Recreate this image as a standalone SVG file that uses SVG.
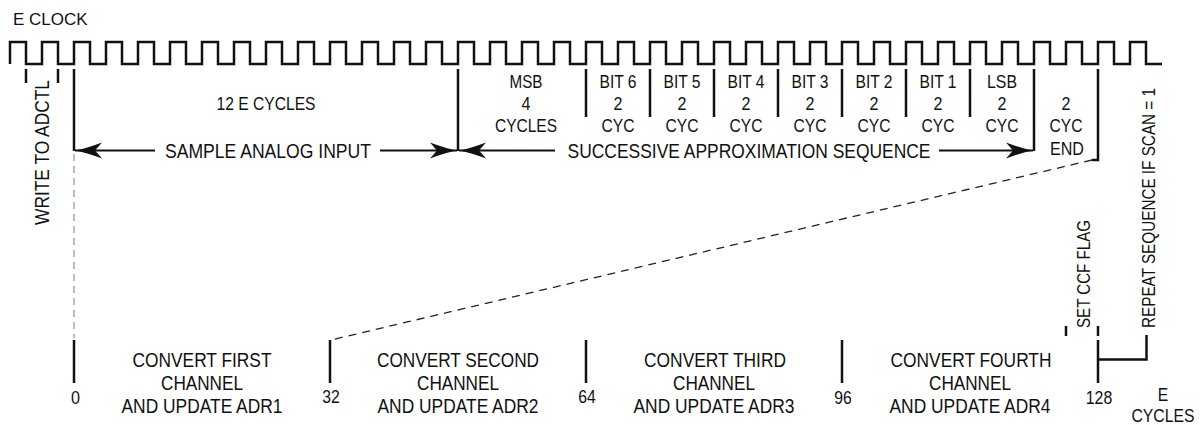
<svg xmlns="http://www.w3.org/2000/svg" width="1200" height="425" viewBox="0 0 1200 425">
<style>
.t{font-family:"Liberation Sans",Arial,sans-serif;fill:#111}
.b{font-size:21px}
.m{font-size:19px}
.s{font-size:18.5px}
.c{text-anchor:middle}
.ln{stroke:#111;stroke-width:2.5;fill:none}
.ar{stroke:#111;stroke-width:2;fill:none;marker-end:url(#ah)}
</style>
<defs>
<marker id="ah" markerUnits="userSpaceOnUse" markerWidth="28" markerHeight="18" refX="27" refY="8" orient="auto" viewBox="0 0 28 16">
<path d="M27,8 Q16,6 0,0 L7,8 L0,16 Q16,10 27,8 Z" fill="#111"/>
</marker>
</defs>

<g id="clock">
<text class="t" x="13" y="25" style="font-size:17px">E CLOCK</text>
<path class="ln" d="M10,64
v-22h16v22h16v-22h16v22h16v-22h16v22h16v-22h16v22h16v-22h16v22h16v-22h16v22h16
v-22h16v22h16v-22h16v22h16v-22h16v22h16v-22h16v22h16v-22h16v22h16v-22h16v22h16
v-22h16v22h16v-22h16v22h16v-22h16v22h16v-22h16v22h16v-22h16v22h16v-22h16v22h16
v-22h16v22h16v-22h16v22h16v-22h16v22h16v-22h16v22h16v-22h16v22h16v-22h16v22h16
v-22h16v22h16v-22h16v22h16v-22h16v22h16v-22h16v22h16v-22h16v22h16v-22h16v22h16
v-22h16v22h16v-22h16v22h16v-22h16v22h16v-22h16v22h16v-22h16v22h16v-22h16v22h16"/>
</g>

<g id="write-adctl">
<line class="ln" x1="26" y1="69" x2="26" y2="83"/>
<line class="ln" x1="58" y1="69" x2="58" y2="83"/>
<text class="t b" transform="translate(49,225) rotate(-90)" textLength="145" lengthAdjust="spacingAndGlyphs">WRITE TO ADCTL</text>
</g>

<g id="sample">
<text class="t m c" x="266" y="110" textLength="99" lengthAdjust="spacingAndGlyphs">12 E CYCLES</text>
<text class="t b c" x="268" y="158" textLength="206" lengthAdjust="spacingAndGlyphs">SAMPLE ANALOG INPUT</text>
</g>

<g id="sar-columns">
<text class="t m c" x="526" y="88" textLength="33" lengthAdjust="spacingAndGlyphs">MSB</text>
<text class="t m c" x="526" y="109.5" textLength="9" lengthAdjust="spacingAndGlyphs">4</text>
<text class="t m c" x="526" y="131.5" textLength="62" lengthAdjust="spacingAndGlyphs">CYCLES</text>
<text class="t m c" x="618" y="88" textLength="37" lengthAdjust="spacingAndGlyphs">BIT 6</text>
<text class="t m c" x="618" y="109.5" textLength="9" lengthAdjust="spacingAndGlyphs">2</text>
<text class="t m c" x="618" y="131.5" textLength="33" lengthAdjust="spacingAndGlyphs">CYC</text>
<text class="t m c" x="682" y="88" textLength="37" lengthAdjust="spacingAndGlyphs">BIT 5</text>
<text class="t m c" x="682" y="109.5" textLength="9" lengthAdjust="spacingAndGlyphs">2</text>
<text class="t m c" x="682" y="131.5" textLength="33" lengthAdjust="spacingAndGlyphs">CYC</text>
<text class="t m c" x="746" y="88" textLength="37" lengthAdjust="spacingAndGlyphs">BIT 4</text>
<text class="t m c" x="746" y="109.5" textLength="9" lengthAdjust="spacingAndGlyphs">2</text>
<text class="t m c" x="746" y="131.5" textLength="33" lengthAdjust="spacingAndGlyphs">CYC</text>
<text class="t m c" x="810" y="88" textLength="37" lengthAdjust="spacingAndGlyphs">BIT 3</text>
<text class="t m c" x="810" y="109.5" textLength="9" lengthAdjust="spacingAndGlyphs">2</text>
<text class="t m c" x="810" y="131.5" textLength="33" lengthAdjust="spacingAndGlyphs">CYC</text>
<text class="t m c" x="874" y="88" textLength="37" lengthAdjust="spacingAndGlyphs">BIT 2</text>
<text class="t m c" x="874" y="109.5" textLength="9" lengthAdjust="spacingAndGlyphs">2</text>
<text class="t m c" x="874" y="131.5" textLength="33" lengthAdjust="spacingAndGlyphs">CYC</text>
<text class="t m c" x="938" y="88" textLength="37" lengthAdjust="spacingAndGlyphs">BIT 1</text>
<text class="t m c" x="938" y="109.5" textLength="9" lengthAdjust="spacingAndGlyphs">2</text>
<text class="t m c" x="938" y="131.5" textLength="33" lengthAdjust="spacingAndGlyphs">CYC</text>
<text class="t m c" x="1002" y="88" textLength="30" lengthAdjust="spacingAndGlyphs">LSB</text>
<text class="t m c" x="1002" y="109.5" textLength="9" lengthAdjust="spacingAndGlyphs">2</text>
<text class="t m c" x="1002" y="131.5" textLength="33" lengthAdjust="spacingAndGlyphs">CYC</text>
<text class="t m c" x="1066" y="109.5" textLength="9" lengthAdjust="spacingAndGlyphs">2</text>
<text class="t m c" x="1066" y="131.5" textLength="33" lengthAdjust="spacingAndGlyphs">CYC</text>
<text class="t m c" x="1067" y="155" textLength="34" lengthAdjust="spacingAndGlyphs">END</text>
<text class="t b c" x="749" y="158" textLength="363" lengthAdjust="spacingAndGlyphs">SUCCESSIVE APPROXIMATION SEQUENCE</text>
</g>

<g id="bottom-blocks">
<text class="t b c" x="202" y="367" textLength="139" lengthAdjust="spacingAndGlyphs">CONVERT FIRST</text>
<text class="t b c" x="202" y="390" textLength="82" lengthAdjust="spacingAndGlyphs">CHANNEL</text>
<text class="t b c" x="202" y="413" textLength="161" lengthAdjust="spacingAndGlyphs">AND UPDATE ADR1</text>
<text class="t b c" x="458" y="367" textLength="162" lengthAdjust="spacingAndGlyphs">CONVERT SECOND</text>
<text class="t b c" x="458" y="390" textLength="82" lengthAdjust="spacingAndGlyphs">CHANNEL</text>
<text class="t b c" x="458" y="413" textLength="161" lengthAdjust="spacingAndGlyphs">AND UPDATE ADR2</text>
<text class="t b c" x="715" y="367" textLength="142" lengthAdjust="spacingAndGlyphs">CONVERT THIRD</text>
<text class="t b c" x="714" y="390" textLength="82" lengthAdjust="spacingAndGlyphs">CHANNEL</text>
<text class="t b c" x="714" y="413" textLength="161" lengthAdjust="spacingAndGlyphs">AND UPDATE ADR3</text>
<text class="t b c" x="971" y="367" textLength="161" lengthAdjust="spacingAndGlyphs">CONVERT FOURTH</text>
<text class="t b c" x="970" y="390" textLength="82" lengthAdjust="spacingAndGlyphs">CHANNEL</text>
<text class="t b c" x="970" y="413" textLength="161" lengthAdjust="spacingAndGlyphs">AND UPDATE ADR4</text>
</g>

<g id="scale">
<text class="t m c" x="75.5" y="404" textLength="9" lengthAdjust="spacingAndGlyphs">0</text>
<text class="t m c" x="331" y="403" textLength="17.5" lengthAdjust="spacingAndGlyphs">32</text>
<text class="t m c" x="587" y="403" textLength="17.5" lengthAdjust="spacingAndGlyphs">64</text>
<text class="t m c" x="843" y="404" textLength="17.5" lengthAdjust="spacingAndGlyphs">96</text>
<text class="t m c" x="1099" y="404" textLength="26.5" lengthAdjust="spacingAndGlyphs">128</text>
<text class="t m c" x="1163" y="401" textLength="10.5" lengthAdjust="spacingAndGlyphs">E</text>
<text class="t m c" x="1163" y="421.5" textLength="63" lengthAdjust="spacingAndGlyphs">CYCLES</text>
</g>

<g id="end-labels">
<text class="t s" transform="translate(1090,328) rotate(-90)" textLength="108" lengthAdjust="spacingAndGlyphs">SET CCF FLAG</text>
<text class="t s" transform="translate(1155,328) rotate(-90)" textLength="240" lengthAdjust="spacingAndGlyphs">REPEAT SEQUENCE IF SCAN = 1</text>
</g>

<g id="connectors">
<line class="ln" x1="74" y1="69" x2="74" y2="151"/>
<line x1="74" y1="154" x2="74" y2="338" stroke="#aaa" stroke-width="1.6" stroke-dasharray="7,5"/>
<line class="ln" x1="74" y1="340" x2="74" y2="383"/>
<line class="ln" x1="458" y1="69" x2="458" y2="151"/>
<line class="ln" x1="586" y1="69" x2="586" y2="117"/>
<line class="ln" x1="650" y1="69" x2="650" y2="117"/>
<line class="ln" x1="714" y1="69" x2="714" y2="117"/>
<line class="ln" x1="778" y1="69" x2="778" y2="117"/>
<line class="ln" x1="842" y1="69" x2="842" y2="117"/>
<line class="ln" x1="906" y1="69" x2="906" y2="117"/>
<line class="ln" x1="970" y1="69" x2="970" y2="117"/>
<line class="ln" x1="1034" y1="69" x2="1034" y2="151"/>
<path class="ln" d="M1098,69 V160 H1092"/>
<line x1="1092" y1="160" x2="331" y2="340" stroke="#222" stroke-width="1.3" stroke-dasharray="8,6"/>
<line class="ar" x1="155" y1="150.5" x2="75" y2="150.5"/>
<line class="ar" x1="380" y1="150.5" x2="457" y2="150.5"/>
<line class="ar" x1="555" y1="150.5" x2="459" y2="150.5"/>
<line class="ar" x1="939" y1="150.5" x2="1033" y2="150.5"/>
<line class="ln" x1="330" y1="340" x2="330" y2="383"/>
<line class="ln" x1="586" y1="340" x2="586" y2="383"/>
<line class="ln" x1="842" y1="340" x2="842" y2="383"/>
<line class="ln" x1="1066" y1="326" x2="1066" y2="336"/>
<line class="ln" x1="1098" y1="326" x2="1098" y2="336"/>
<line class="ln" x1="1098" y1="340" x2="1098" y2="383"/>
<path class="ln" d="M1098,359.5 H1146.5 V335"/>
</g>
</svg>
